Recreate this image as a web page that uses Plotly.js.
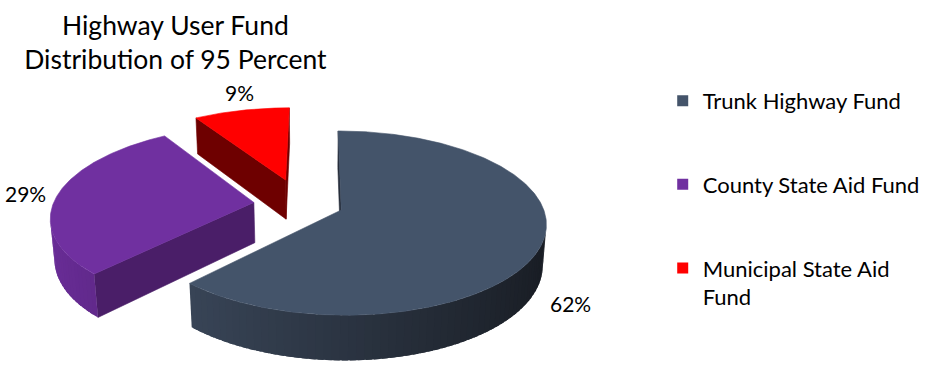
<!DOCTYPE html>
<html><head><meta charset="utf-8">
<script src="https://cdn.plot.ly/plotly-3.0.1.min.js"></script>
<style>html,body{margin:0;padding:0;background:#fff}#chart{width:925px;height:365px}</style>
</head><body><div id="chart"></div>
<script>
// ---- data ----
const categories = ['Trunk Highway Fund', 'County State Aid Fund', 'Municipal State Aid Fund'];
const legendLabels = ['Trunk Highway Fund', 'County State Aid Fund', 'Municipal State Aid<br>Fund'];
const values = [62, 29, 9];
const chartTitle = 'Highway User Fund<br>Distribution of 95 Percent';

// ---- styles ----
const FONT = 'Lato, "Open Sans", sans-serif';
const topColors = ['#44546a', '#7030a0', '#ff0000'];
const sideLight = [[62, 76, 96], [106, 45, 152], [150, 0, 0]];
const sideDark = [[24, 28, 35], [50, 20, 75], [80, 0, 0]];
const cutColors = ['#262e3a', '#4a1e68', '#6e0000'];
const explodeDist = [0, 90, 91];
const explodeDir = [0, 281, 321];

// ---- 3D pie geometry (screen px) ----
const R = 203, H = 46;
const view = {cx: 317, cy: 210, D: 1281, phi: 26.4 * Math.PI / 180, xc: -25};
const sinP = Math.sin(view.phi), cosP = Math.cos(view.phi);
const cam = [view.xc, view.D * sinP, view.D * cosP];
const rad = d => d * Math.PI / 180;
function proj(p) {
  const X = p[0], Y = p[1], Z = p[2];
  const w = Y * sinP + Z * cosP;
  const v = Y * cosP - Z * sinP;
  const s = view.D / (view.D - w);
  return [view.cx + s * (X - view.xc), view.cy - s * v];
}
function rim(sl, th, y, r) {
  r = (r === undefined) ? R : r;
  return [sl.px + r * Math.sin(rad(th)), y, sl.pz - r * Math.cos(rad(th))];
}
function visible(p, n) {
  return n[0] * (cam[0] - p[0]) + n[1] * (cam[1] - p[1]) + n[2] * (cam[2] - p[2]) > 0;
}
function mix(a, b, t) {
  return 'rgb(' + a.map((c, k) => Math.round(c + (b[k] - c) * t)).join(',') + ')';
}
function polyTrace(pts3, color, lw) {
  const xs = [], ys = [];
  pts3.forEach(p => { const q = proj(p); xs.push(q[0]); ys.push(q[1]); });
  xs.push(xs[0]); ys.push(ys[0]);
  return {type: 'scatter', mode: 'lines', x: xs, y: ys, fill: 'toself', fillcolor: color,
    line: {color: color, width: lw === undefined ? 0.6 : lw}, hoverinfo: 'skip', showlegend: false};
}
function sidePoly(sl, b0, b1) {
  const pts = [];
  for (let k = 0; k <= 4; k++) pts.push(rim(sl, b0 + (b1 - b0) * k / 4, 0));
  for (let k = 4; k >= 0; k--) pts.push(rim(sl, b0 + (b1 - b0) * k / 4, -H));
  return pts;
}

const total = values.reduce((a, b) => a + b, 0);
let acc = 0;
const slices = values.map((v, i) => {
  const a0 = acc / total * 360; acc += v; const a1 = acc / total * 360;
  const d = explodeDist[i], dir = rad(explodeDir[i]);
  return {i, v, a0, a1, mid: (a0 + a1) / 2, px: d * Math.sin(dir), pz: -d * Math.cos(dir)};
});

const traces = [];
const order = slices.slice().sort((a, b) => a.pz - b.pz);
order.forEach(sl => {
  const i = sl.i;
  const apexT = [sl.px, 0, sl.pz], apexB = [sl.px, -H, sl.pz];
  // radial faces
  [[sl.a0, -1], [sl.a1, 1]].forEach(([a, sg]) => {
    const n = [sg * Math.cos(rad(a)), 0, sg * Math.sin(rad(a))];
    if (visible(rim(sl, a, -H / 2, R / 2), n)) {
      traces.push(polyTrace([apexT, rim(sl, a, 0), rim(sl, a, -H), apexB], cutColors[i]));
    }
  });
  // outer side
  const step = 0.5;
  const nSteps = Math.ceil((sl.a1 - sl.a0) / step);
  let runs = [], cur = null;
  for (let k = 0; k < nSteps; k++) {
    const t0 = sl.a0 + k * (sl.a1 - sl.a0) / nSteps, t1 = sl.a0 + (k + 1) * (sl.a1 - sl.a0) / nSteps;
    const tm = (t0 + t1) / 2;
    const n = [Math.sin(rad(tm)), 0, -Math.cos(rad(tm))];
    const vis = visible(rim(sl, tm, -H / 2), n);
    if (vis) { if (!cur) { cur = [t0, t1]; runs.push(cur); } else cur[1] = t1; }
    else cur = null;
  }
  runs.forEach(([r0, r1]) => {
    const nb = Math.max(1, Math.ceil((r1 - r0) / 2));
    for (let b = 0; b < nb; b++) {
      const b0 = r0 + b * (r1 - r0) / nb, b1 = r0 + (b + 1) * (r1 - r0) / nb;
      const tm = (b0 + b1) / 2;
      const t = (Math.sin(rad(tm)) + 1) / 2;
      // each band overlaps the next one slightly so no seams show
      traces.push(polyTrace(sidePoly(sl, b0, Math.min(r1, b1 + 1.5)), mix(sideLight[i], sideDark[i], t), 0));
    }
  });
  // top face
  const top = [apexT];
  const m = Math.ceil((sl.a1 - sl.a0) / 0.5);
  for (let k = 0; k <= m; k++) top.push(rim(sl, sl.a0 + (sl.a1 - sl.a0) * k / m, 0));
  traces.push(polyTrace(top, topColors[i]));
});

// legend entries
categories.forEach((c, i) => {
  traces.push({type: 'scatter', mode: 'markers', x: [null], y: [null], name: legendLabels[i],
    legendgroup: 'g' + i, marker: {symbol: 'square', size: 11, color: topColors[i]}, hoverinfo: 'skip'});
});

// percent labels
const annotations = slices.map(sl => {
  const sm = Math.sin(rad(sl.mid)), cm = Math.cos(rad(sl.mid));
  const p = proj(rim(sl, sl.mid, cm < 0 ? -H : 0, R * 1.05));
  return {x: p[0], y: p[1], xref: 'x', yref: 'y', showarrow: false,
    text: Math.round(sl.v / total * 100) + '%',
    xanchor: sm > 0.3 ? 'left' : (sm < -0.3 ? 'right' : 'center'),
    yanchor: cm > 0.3 ? 'bottom' : (cm < -0.3 ? 'top' : 'middle'),
    font: {family: FONT, size: 21, color: '#000'}};
});

const layout = {
  width: 925, height: 365,
  margin: {l: 0, r: 0, t: 0, b: 0},
  paper_bgcolor: '#fff', plot_bgcolor: '#fff',
  title: {text: chartTitle, x: 0.19, xanchor: 'center', xref: 'paper', y: 0.905, yref: 'container', yanchor: 'top',
    font: {family: FONT, size: 26.5, color: '#000'}},
  xaxis: {range: [0, 925], visible: false, fixedrange: true},
  yaxis: {range: [365, 0], visible: false, fixedrange: true},
  showlegend: true,
  legend: {x: 0.718, y: 0.781, xanchor: 'left', yanchor: 'top', traceorder: 'grouped', tracegroupgap: 52,
    valign: 'top', bgcolor: 'rgba(0,0,0,0)', font: {family: FONT, size: 22, color: '#000'}},
  annotations: annotations
};
Plotly.newPlot('chart', traces, layout, {displayModeBar: false, staticPlot: true});
</script></body></html>
